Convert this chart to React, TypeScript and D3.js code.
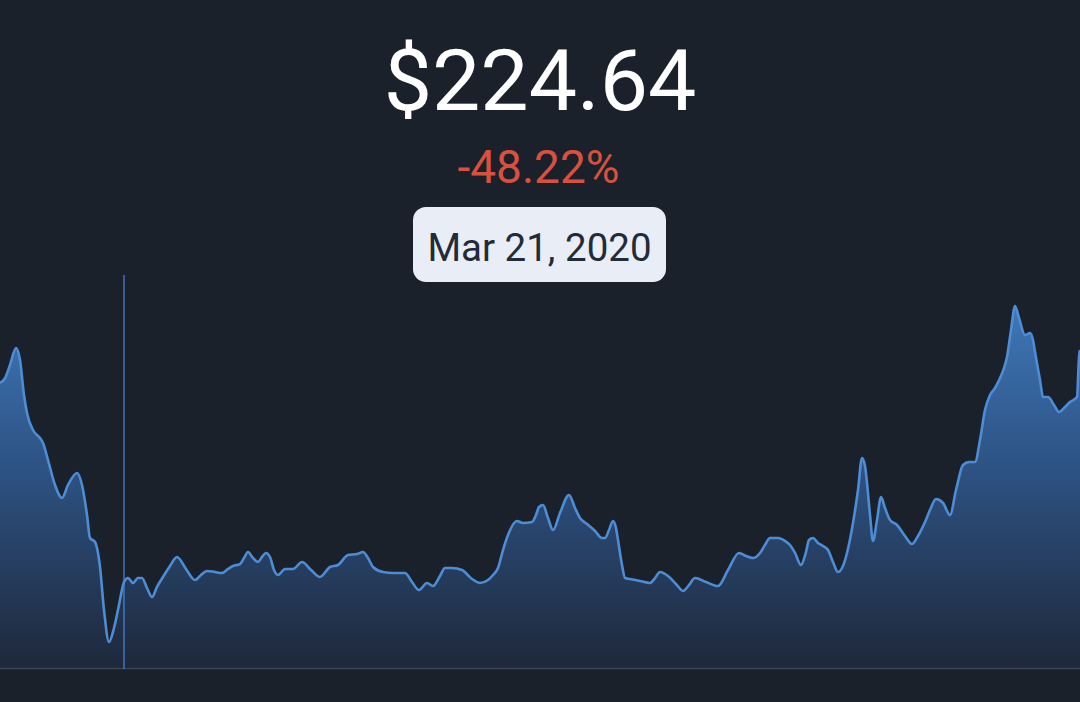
import React from "react";
import * as d3 from "d3";

// Days since start date (Jan 19, 2020)
const days: number[] = [0,2.5,5,8,10,12,13.5,16.5,20,21.5,24,27.5,31,34,38.5,41,43.5,45,47.5,50,52,54.5,57,59.5,62,64,66.5,69,71,73.5,76,78.5,81.5,85,88.5,93,97.5,100.5,103.5,107.5,111,114,116.5,120,122,124,126.5,129,131,133,135,137,139,142.5,146.5,151,155.5,160,165,169,174,178.5,181.5,184,186.5,191.5,196.5,202.5,206,209.5,213.5,216.5,220,222.5,226,231,236,240,244,246.5,249,251.5,254,258.5,261.5,266,268,269.5,271.5,274,276.5,280,284.5,287.5,290,293.5,297.5,301,302.5,304.5,306.5,308,309,311,312.5,315,320,325,327.5,330,334,338,341.5,344.5,347.5,353,359,364,369.5,373,376.5,380,382.5,385,389,392.5,395,397.5,400.5,403,404.5,406.5,409,411.5,414,416.5,419,421.5,423.5,426.5,429,431,432.5,433.5,435,436.5,438.5,440.5,442.5,445,448.5,452.5,456,459,462.5,465,468,471.5,475,478,481.5,484.5,487.5,490,492.5,495,497.5,500,502,503.5,505.5,507.5,509.5,512.5,515,516.5,517.5,520,521.5,524,527,529.5,532.5,535,538.5,539.5,540];

const prices: number[] = [433.82,438.8,452.5,470.3,457.7,421.0,402.1,384.2,375.8,370.6,352.7,326.5,312.8,326.5,339.1,326.5,295.0,270.8,266.6,240.4,195.2,161.6,176.3,200.5,224.64,228.8,223.6,228.8,228.8,218.3,208.9,219.4,229.9,241.4,250.9,238.3,226.7,232.0,236.2,235.1,234.1,238.3,241.4,243.5,249.8,256.1,249.8,245.6,250.9,255.1,250.9,237.2,232.0,238.3,238.3,245.6,237.2,229.9,240.4,242.5,253.0,254.0,256.1,249.8,240.4,235.1,234.1,234.1,224.6,216.2,223.6,220.4,230.9,239.3,239.3,237.2,227.8,223.6,226.7,232.0,239.3,258.2,274.0,288.7,286.6,287.6,295.0,303.4,305.5,291.8,279.2,297.1,316.0,302.3,291.8,285.5,278.2,270.8,270.8,279.2,288.7,281.3,268.7,242.5,228.8,227.8,225.7,223.6,228.8,235.1,230.9,222.5,215.2,221.4,228.8,224.6,220.4,237.2,255.1,251.9,249.8,255.1,263.5,270.8,270.8,267.7,263.5,255.1,242.5,256.1,268.7,270.8,265.6,262.4,258.2,245.6,235.1,241.4,255.1,286.6,321.2,354.8,346.4,328.6,295.0,267.7,289.7,313.9,302.3,289.7,284.5,272.9,264.5,272.9,287.6,300.2,311.8,307.6,295.0,321.2,347.5,350.6,350.6,373.7,405.2,421.0,428.3,438.8,449.3,460.9,489.2,514.4,501.8,484.0,486.1,478.7,466.1,436.7,418.9,418.9,410.5,403.1,408.4,413.6,418.9,460.9,468.2];

const startDate = new Date(2020, 0, 19);
const selectedDay = 62;
const selectedPrice = 224.64;
const yDomain: [number, number] = [134.3, 547];
const xDomain: [number, number] = [0, 540];

const W = 1080;
const H = 702;

export default function App() {
  const data = days.map((d, i) => ({ d, p: prices[i] }));
  const x = d3.scaleLinear().domain(xDomain).range([0, W]);
  const y = d3.scaleLinear().domain(yDomain).range([668, 275]);
  const area = d3
    .area<{ d: number; p: number }>()
    .x((v) => x(v.d))
    .y0(y(yDomain[0]))
    .y1((v) => y(v.p))
    .curve(d3.curveMonotoneX);
  const line = d3
    .line<{ d: number; p: number }>()
    .x((v) => x(v.d))
    .y((v) => y(v.p))
    .curve(d3.curveMonotoneX);
  const fmt = d3.formatLocale({
    decimal: ".",
    thousands: ",",
    grouping: [3],
    currency: ["$", ""],
    minus: "-",
  });
  const change = selectedPrice / prices[0] - 1;
  const pct = fmt.format(".2f")(change * 100) + "%";
  const dateLabel = d3.timeFormat("%b %-d, %Y")(d3.timeDay.offset(startDate, selectedDay));
  const sx = x(selectedDay);

  return (
    <svg
      width={W}
      height={H}
      style={{ position: "fixed", left: 0, top: 0, display: "block" }}
      fontFamily="Roboto, 'Noto Sans', sans-serif"
    >
      <defs>
        <linearGradient id="fillGrad" gradientUnits="userSpaceOnUse" x1="0" y1="300" x2="0" y2="668">
          <stop offset="0" stopColor="#3f78b8" />
          <stop offset="0.45" stopColor="#2d5384" />
          <stop offset="1" stopColor="#1e283a" />
        </linearGradient>
      </defs>
      <rect x={0} y={0} width={W} height={H} fill="#1b212b" />
      <path d={area(data) || ""} fill="url(#fillGrad)" />
      <path d={line(data) || ""} fill="none" stroke="#4d8dd6" strokeWidth={2.6} strokeLinejoin="round" />
      <line x1={0} x2={W} y1={668.5} y2={668.5} stroke="#3b4452" strokeWidth={1.5} />
      <line x1={sx} x2={sx} y1={275} y2={669} stroke="#4a8ad4" strokeWidth={1.2} />
      <text x={540} y={110} textAnchor="middle" fill="#ffffff" fontSize={86}>
        {"$" + fmt.format(".2f")(selectedPrice)}
      </text>
      <text x={538.5} y={183} textAnchor="middle" fill="#d9503f" fontSize={46}>
        {pct}
      </text>
      <rect x={413} y={207} width={253} height={75} rx={13} fill="#e9eef6" />
      <text x={539.5} y={261} textAnchor="middle" fill="#222b38" fontSize={38.5}>
        {dateLabel}
      </text>
    </svg>
  );
}
